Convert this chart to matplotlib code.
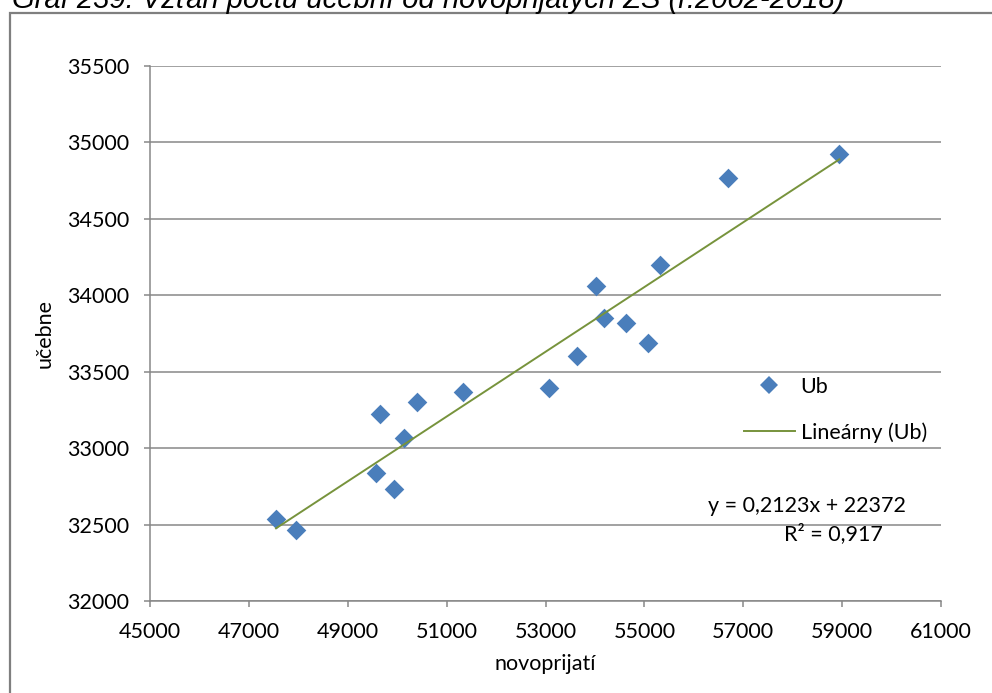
import matplotlib
matplotlib.use("Agg")
import matplotlib.pyplot as plt
import numpy as np
from matplotlib.lines import Line2D
from matplotlib.patches import Rectangle

# data (novoprijatí vs učebne, r.2002-2018)
novoprijati = [47549, 47953, 49572, 49936, 49653, 50139, 50401, 51332, 53078,
               53644, 54029, 54178, 54636, 55074, 55317, 56699, 58945]
ucebne = [32536, 32464, 32837, 32733, 33223, 33066, 33302, 33367, 33391,
          33605, 34063, 33849, 33821, 33690, 34198, 34769, 34922]
x_ticks = [45000, 47000, 49000, 51000, 53000, 55000, 57000, 59000, 61000]
y_ticks = [32000, 32500, 33000, 33500, 34000, 34500, 35000, 35500]
title = "Graf 239: Vzťah počtu učební od novoprijatých ZŠ (r.2002-2018)"
eq_text = "y = 0,2123x + 22372"
r2_text = "R² = 0,917"

FONT = "Lato"
FS = 15.5
GRID = "#878787"
BLUE = "#4A7EBB"
GREEN = "#77933C"

fig = plt.figure(figsize=(9.92, 6.93), dpi=100)
W, H = 992, 693

def fx(px):
    return px / W

def fy(py):
    return 1 - py / H

# outer chart frame
fig.patches.append(Rectangle((fx(10), fy(700)), fx(1000) - fx(10), fy(13) - fy(700),
                             transform=fig.transFigure, fill=False,
                             edgecolor="#7f7f7f", linewidth=1.6, clip_on=False))

# title (cut off at top)
fig.text(fx(12), fy(8.5), title, family="Liberation Sans", style="italic",
         fontsize=21, ha="left", va="baseline")

ax = fig.add_axes([fx(150), fy(601), fx(941) - fx(150), fy(66) - fy(601)])
ax.set_xlim(45000, 61000)
ax.set_ylim(32000, 35500)
ax.set_xticks(x_ticks)
ax.set_yticks(y_ticks)
ax.set_xticklabels([str(v) for v in x_ticks], family=FONT, fontsize=FS)
ax.set_yticklabels([str(v) for v in y_ticks], family=FONT, fontsize=FS)
ax.tick_params(axis="both", direction="out", length=4, width=1.1, color=GRID)
ax.tick_params(axis="x", pad=11)
ax.tick_params(axis="y", pad=11)
ax.yaxis.grid(True, color=GRID, linewidth=1.1)
ax.set_axisbelow(True)
for s in ["top", "right"]:
    ax.spines[s].set_visible(False)
for s in ["left", "bottom"]:
    ax.spines[s].set_color(GRID)
    ax.spines[s].set_linewidth(1.1)

ax.scatter(novoprijati, ucebne, marker="D", s=100, color=BLUE, zorder=3, linewidths=0)

# linear trendline
xs = np.array(novoprijati, dtype=float)
ys = np.array(ucebne, dtype=float)
k, q = np.polyfit(xs, ys, 1)
xl = np.array([xs.min(), xs.max()])
ax.plot(xl, k * xl + q, color=GREEN, linewidth=1.4, zorder=4)

ax.set_xlabel("novoprijatí", family=FONT, fontsize=FS, labelpad=9)
ax.set_ylabel("učebne", family=FONT, fontsize=FS, labelpad=9)

handles = [Line2D([], [], marker="D", linestyle="none", color=BLUE, markersize=9, markeredgewidth=0),
           Line2D([], [], color=GREEN, linewidth=1.4)]
fig.legend(handles, ["Ub", "Lineárny (Ub)"], loc="upper left",
           bbox_to_anchor=(fx(744), fy(377)), frameon=False,
           prop={"family": FONT, "size": FS}, handlelength=2.35,
           handletextpad=0.28, labelspacing=1.18, borderaxespad=0, borderpad=0)

fig.text(fx(906), fy(506), eq_text, family=FONT, fontsize=FS, ha="right", va="center")
fig.text(fx(833), fy(534), r2_text, family=FONT, fontsize=FS, ha="center", va="center")

fig.savefig("out.png", dpi=100)
